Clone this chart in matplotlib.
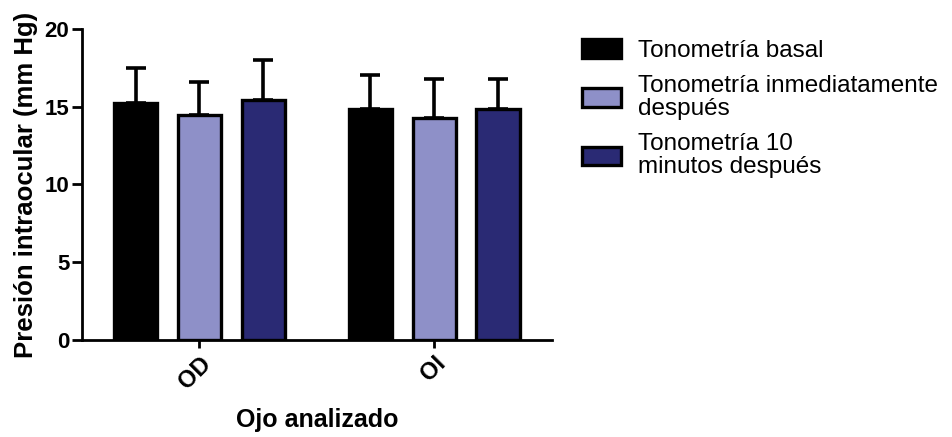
import matplotlib
matplotlib.use("Agg")
import matplotlib.pyplot as plt
import numpy as np

plt.rcParams['font.family'] = ['Liberation Sans', 'DejaVu Sans']

categories = ["OD", "OI"]
series_names = ["Tonometría basal", "Tonometría inmediatamente\ndespués",
                "Tonometría 10\nminutos después"]
means = [
    [15.27, 14.86],   # basal
    [14.48, 14.28],   # inmediatamente después
    [15.43, 14.86],   # 10 minutos después
]
errors = [
    [2.20, 2.18],
    [2.09, 2.50],
    [2.57, 1.92],
]
colors = ["#000000", "#8E90C8", "#2A2A74"]
y_ticks = [0, 5, 10, 15, 20]

fig = plt.figure(figsize=(9.52, 4.37), dpi=100)
ax = fig.add_axes([0.0861, 0.222, 0.4934, 0.7117])

x = np.arange(len(categories))
step = 0.272
width = 0.185
for i, (m, e, c, name) in enumerate(zip(means, errors, colors, series_names)):
    pos = x + (i - 1) * step
    ax.bar(pos, m, width=width, color=c, edgecolor="black", linewidth=2.4,
           label=name, zorder=3)
    ax.errorbar(pos, m, yerr=[np.zeros(len(e)), e], fmt="none", ecolor="black",
                elinewidth=2.6, capsize=7.5, capthick=2.6, zorder=2)

ax.set_xlim(-0.5, 1.5)
ax.set_ylim(0, 20)
ax.set_yticks(y_ticks)
ax.set_xticks(x)
ax.set_xticklabels(categories, rotation=45, ha="right", va="top",
                   rotation_mode="anchor", fontsize=17, fontweight="bold")
for lbl in ax.get_yticklabels():
    lbl.set_fontsize(16)
    lbl.set_fontweight("bold")

for s in ["top", "right"]:
    ax.spines[s].set_visible(False)
for s in ["left", "bottom"]:
    ax.spines[s].set_linewidth(2.0)
ax.tick_params(axis="y", direction="out", length=7, width=2.0, pad=2)
ax.tick_params(axis="x", direction="out", length=5.5, width=2.0, pad=3)

ax.set_ylabel("Presión intraocular (mm Hg)", fontsize=18.5, fontweight="bold",
              labelpad=5)
ax.set_xlabel("Ojo analizado", fontsize=18, fontweight="bold", labelpad=11)

leg = fig.legend(loc="upper left", bbox_to_anchor=(582 / 952, 1 - 39 / 437),
                 frameon=False, fontsize=17.5, borderpad=0, borderaxespad=0,
                 handlelength=1.6, handleheight=0.8, handletextpad=0.7,
                 labelspacing=0.55)
for t in leg.get_texts():
    t.set_linespacing(1.05)
for h in leg.legend_handles:
    h.set_linewidth(2.4)

fig.savefig("out.png", dpi=100)
